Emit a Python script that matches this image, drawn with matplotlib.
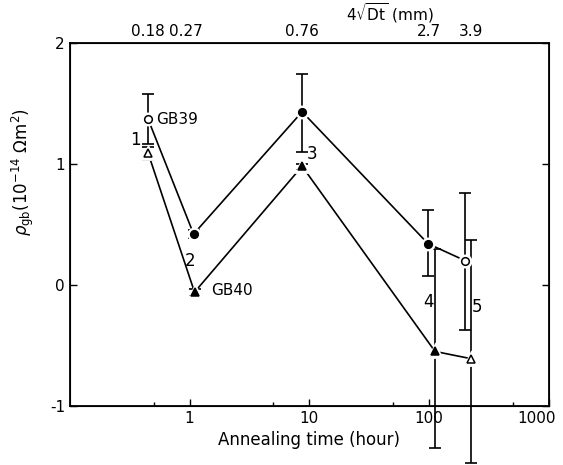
import matplotlib
matplotlib.use("Agg")
import matplotlib.pyplot as plt
import matplotlib.transforms as mtransforms
import numpy as np

# annealing time (hour) and rho_gb (1e-14 Ohm m^2)
gb39_t = [0.45, 1.08, 8.7, 98, 200]
gb39_rho = [1.37, 0.42, 1.43, 0.34, 0.20]
gb39_hi = [1.58, 0.45, 1.74, 0.62, 0.76]
gb39_lo = [1.16, 0.39, 1.10, 0.07, -0.37]
gb39_open = [True, False, False, False, True]

gb40_t = [0.45, 1.10, 8.7, 112, 225]
gb40_rho = [1.09, -0.06, 0.98, -0.55, -0.61]
gb40_hi = [1.14, -0.03, 1.00, 0.30, 0.37]
gb40_lo = [1.03, -0.09, 0.95, -1.35, -1.47]
gb40_open = [True, False, False, False, True]

point_labels = ["1", "2", "3", "4", "5"]
top_labels = ["0.18", "0.27", "0.76", "2.7", "3.9"]
top_pos = [0.45, 0.93, 8.7, 100, 225]

fig = plt.figure(figsize=(5.63, 4.65), dpi=100)
ax = fig.add_axes([0.124, 0.127, 0.851, 0.781])
ax.set_xscale("log")
ax.set_xlim(0.1, 1000)
ax.set_ylim(-1, 2)


def draw(t, rho, hi, lo, opened, marker):
    t = np.array(t)
    rho = np.array(rho)
    err = [rho - np.array(lo), np.array(hi) - rho]
    ax.plot(t, rho, color="black", lw=1.2, zorder=2)
    eb = ax.errorbar(t, rho, yerr=err, fmt="none", ecolor="black",
                     elinewidth=1.2, capsize=4, capthick=1.2, zorder=3)
    for art in eb.lines[1]:
        art.set_clip_on(False)
    for art in eb.lines[2]:
        art.set_clip_on(False)
    for xi, yi, op in zip(t, rho, opened):
        ax.plot(xi, yi, marker=marker, ms=8, color="white", mec="white",
                mew=2, zorder=4)
        ax.plot(xi, yi, marker=marker, ms=5.5,
                mfc="white" if op else "black", mec="black", mew=1.1,
                zorder=5)


draw(gb39_t, gb39_rho, gb39_hi, gb39_lo, gb39_open, "o")
draw(gb40_t, gb40_rho, gb40_hi, gb40_lo, gb40_open, "^")

ax.text(0.53, 1.37, "GB39", fontsize=11, va="center")
ax.text(1.5, -0.05, "GB40", fontsize=11, va="center")
num_xy = [(0.35, 1.2), (1.0, 0.2), (10.5, 1.08), (98, -0.14), (250, -0.18)]
for lab, (xx, yy) in zip(point_labels, num_xy):
    ax.text(xx, yy, lab, fontsize=12, ha="center", va="center")

ax.set_yticks([-1, 0, 1, 2])
ax.set_yticklabels(["-1", "0", "1", "2"])
ax.set_xticks([1, 10, 100, 1000])
ax.set_xticklabels(["1", "10", "100", "1000"])
ax.set_xticks([0.5, 5, 50, 500], minor=True)
ax.tick_params(which="both", direction="in", top=True, right=True,
               labelsize=11, width=1)
ax.tick_params(which="major", length=5)
ax.tick_params(which="minor", length=3)
ax.yaxis.set_minor_locator(plt.NullLocator())
for s in ax.spines.values():
    s.set_linewidth(1.3)
last = ax.get_xticklabels()[-1]
last.set_transform(last.get_transform() +
                   mtransforms.ScaledTranslation(-12 / 100, 0, fig.dpi_scale_trans))

ax.set_xlabel("Annealing time (hour)", fontsize=12, labelpad=4)
fig.text(0.04, 0.63, r"$\rho_{\rm gb}$(10$^{-14}$ $\Omega$m$^2$)",
         rotation=90, fontsize=12, ha="center", va="center")

top = ax.twiny()
top.set_xscale("log")
top.set_xlim(ax.get_xlim())
top.set_xticks(top_pos)
top.set_xticklabels(top_labels)
top.xaxis.set_minor_locator(plt.NullLocator())
top.tick_params(length=0, labelsize=11, pad=3)
fig.text(0.693, 0.955, r"$4\sqrt{\mathrm{Dt}}$ (mm)", fontsize=11,
         ha="center", va="baseline")

fig.savefig("out.png", dpi=100)
